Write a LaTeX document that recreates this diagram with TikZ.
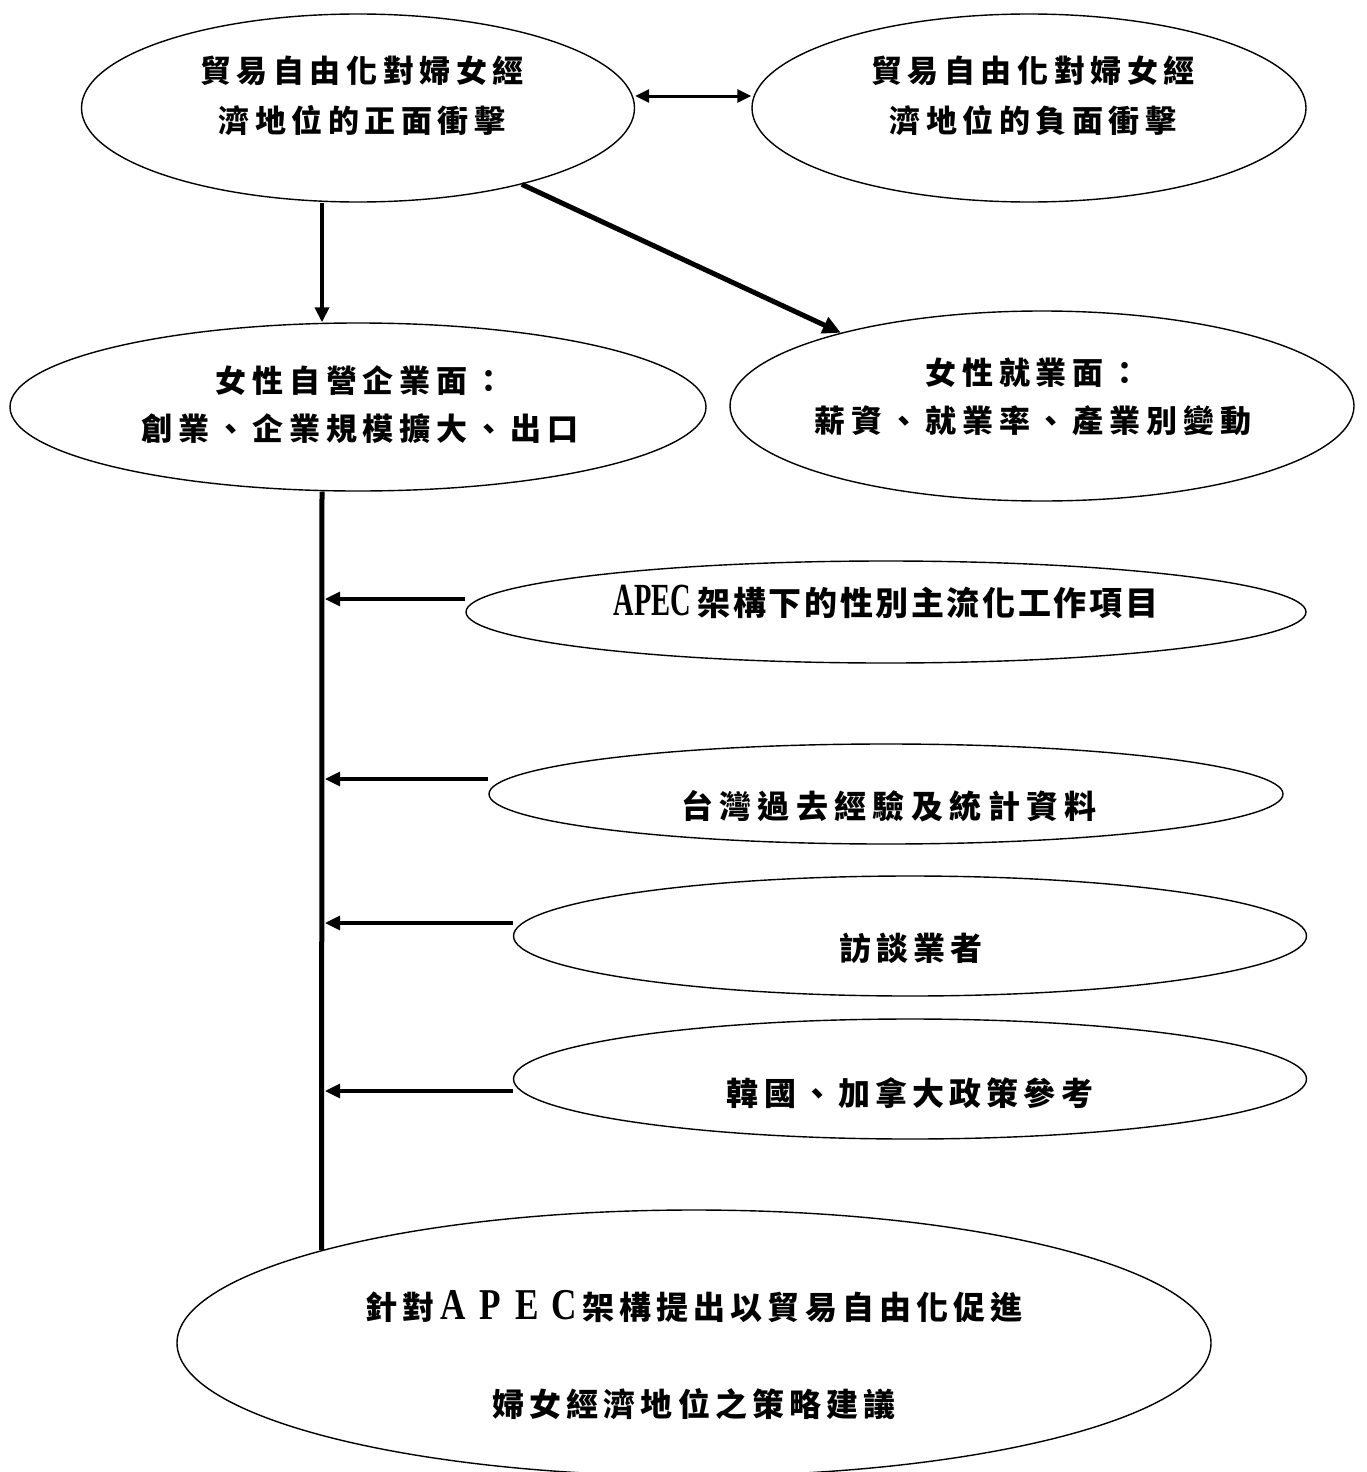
\documentclass[tikz,border=0pt]{standalone}
\usepackage{fontspec}
\usetikzlibrary{shapes.geometric,arrows.meta}
\newfontfamily\cjk{Noto Sans CJK TC}
\newfontfamily\lat{Liberation Serif}
\newcommand\fTop{\cjk\bfseries\fontsize{31}{50}\selectfont\addfontfeatures{LetterSpace=18}}
\newcommand\fMid{\cjk\bfseries\fontsize{31}{48}\selectfont\addfontfeatures{LetterSpace=19}}
\newcommand\fList[2]{\cjk\bfseries\fontsize{#1}{40}\selectfont\addfontfeatures{LetterSpace=#2}}
\newcommand\fBot{\cjk\bfseries\fontsize{32}{97}\selectfont\addfontfeatures{LetterSpace=16}}
\newcommand\apecH{\scalebox{0.62}[1]{\lat\fontsize{46}{46}\selectfont APEC}\hspace{6pt}}
\newcommand\fwl[1]{\makebox[37pt]{\scalebox{0.8}[1]{\lat\fontsize{44}{44}\selectfont #1}}}
\begin{document}
\begin{tikzpicture}[x=1pt,y=-1pt,
  ell/.style={draw, ellipse, line width=1.4pt, inner sep=0pt},
  txt/.style={align=center, inner sep=0pt},
  arr/.style={line width=3.2pt, -{Triangle[length=15pt,width=14pt]}},
  darr/.style={line width=3pt, {Triangle[length=14pt,width=13pt]}-{Triangle[length=14pt,width=13pt]}},
  thick arr/.style={line width=5pt, -{Triangle[length=18pt,width=17pt]}},
  spine/.style={line width=5pt}]
\useasboundingbox (0,0) rectangle (1367,1472);
% ellipses
\node[ell, minimum width=553pt, minimum height=188pt] (e1) at (358,108) {};
\node[ell, minimum width=554pt, minimum height=188pt] (e2) at (1029,108) {};
\node[ell, minimum width=696pt, minimum height=168pt] (e3) at (358,407) {};
\node[ell, minimum width=624pt, minimum height=190pt] (e4) at (1042,406) {};
\node[ell, minimum width=840pt, minimum height=102pt] (e5) at (886,612) {};
\node[ell, minimum width=794pt, minimum height=100pt] (e6) at (886,794) {};
\node[ell, minimum width=793pt, minimum height=120pt] (e7) at (910,936) {};
\node[ell, minimum width=793pt, minimum height=120pt] (e8) at (910,1079) {};
\node[ell, minimum width=1034pt, minimum height=266pt] (e9) at (694,1343) {};
% texts
\node[txt, font=\fTop] (t1) at (362,96) {貿易自由化對婦女經\\濟地位的正面衝擊};
\node[txt, font=\fTop] (t2) at (1033,96) {貿易自由化對婦女經\\濟地位的負面衝擊};
\node[txt, font=\fMid] (t3) at (360,405) {女性自營企業面：\\創業、企業規模擴大、出口};
\node[txt, font=\fMid] (t4) at (1033,397) {女性就業面：\\薪資、就業率、產業別變動};
\node[txt, font=\fList{33}{8}] (t5) at (886,602) {\apecH 架構下的性別主流化工作項目};
\node[txt, font=\fList{32}{20}] (t6) at (889,806) {台灣過去經驗及統計資料};
\node[txt, font=\fList{32}{15}] (t7) at (911,948) {訪談業者};
\node[txt, font=\fList{32}{16}] (t8) at (910,1093) {韓國、加拿大政策參考};
\node[txt, font=\fBot] (t9) at (694,1355) {針對\fwl{A}\fwl{P}\fwl{E}\fwl{C}架構提出以貿易自由化促進\\婦女經濟地位之策略建議};
% helper coordinates
\coordinate (spx) at (325,0);
\coordinate (a5) at ([yshift=13pt]e5.west);
\coordinate (a6) at ([yshift=15pt]e6.west);
\coordinate (a7) at ([yshift=13pt]e7.west);
\coordinate (a8) at ([yshift=-12pt]e8.west);
\coordinate (d1) at ([yshift=12pt]e1.east);
\coordinate (d2) at ([yshift=12pt]e2.west);
% connectors
\draw[darr] (d1) -- (d2);
\draw[arr, line width=3.8pt] ([xshift=-36pt]e1.south) -- ([xshift=-36pt]e3.north);
\draw[thick arr] (e1.-25) -- (e4.160);
\draw[spine] ([xshift=-36pt]e3.south) -- (e9.166);
\draw[arr] (a5) -- (a5 -| spx);
\draw[arr] (a6) -- (a6 -| spx);
\draw[arr] (a7) -- (a7 -| spx);
\draw[arr] (a8) -- (a8 -| spx);
\end{tikzpicture}
\end{document}
